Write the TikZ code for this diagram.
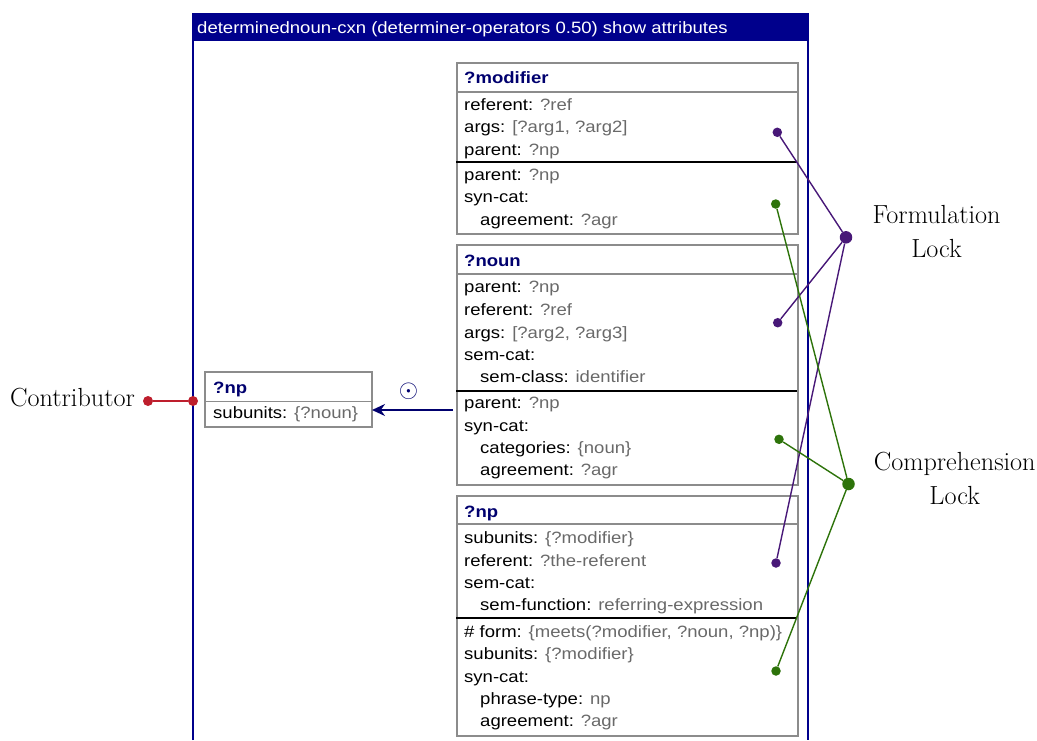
\documentclass[tikz,border=0pt]{standalone}
\usepackage{fontspec}
\setsansfont{Liberation Sans}[FakeStretch=1.13]
\usetikzlibrary{arrows.meta}

\definecolor{hdrnavy}{RGB}{0,0,140}
\definecolor{titlenavy}{RGB}{0,0,110}
\definecolor{boxgray}{RGB}{140,140,140}
\definecolor{valgray}{RGB}{105,105,105}
\definecolor{formpurple}{RGB}{72,24,120}
\definecolor{compgreen}{RGB}{45,115,10}
\definecolor{contrred}{RGB}{190,30,45}

\newcommand{\attrval}[1]{\textcolor{valgray}{#1}}

\begin{document}
\begin{tikzpicture}[x=1pt,y=-1pt,>={Stealth[length=13pt,width=12pt]},
    box/.style={draw=boxgray,line width=1.8pt,anchor=north west,inner sep=0pt},
    titlerule/.style={draw=boxgray,line width=1.2pt},
    seprule/.style={draw=black,line width=1.8pt},
    attr/.style={anchor=base west,inner sep=0pt,font=\sffamily\fontsize{16.4}{19}\selectfont},
    title/.style={attr,font=\sffamily\bfseries\fontsize{16.4}{19}\selectfont,text=titlenavy},
    hdr/.style={attr,text=white},
    lbl/.style={anchor=base,inner sep=0pt,font=\fontsize{26.2}{30}\selectfont},
    pdot/.style={circle,fill=formpurple,inner sep=0pt,minimum size=9.5pt},
    gdot/.style={circle,fill=compgreen,inner sep=0pt,minimum size=9.5pt},
    rdot/.style={circle,fill=contrred,inner sep=0pt,minimum size=10pt},
    hub/.style={minimum size=12.5pt},
    lockline/.style={line width=1.4pt}]

    \useasboundingbox (0,0) rectangle (1037,740);

    % construction frame
    \fill[hdrnavy] (193,14) rectangle (808,41);
    \draw[hdrnavy,line width=2.4pt] (193,740) -- (193,14) -- (808,14) -- (808,740);
    \node[hdr] (cxn) at (197,33.5) {determinednoun-cxn (determiner-operators 0.50) show attributes};

    % ?modifier unit
    \node[box,minimum width=341pt,minimum height=171pt] (modbox) at (456,62) {};
    \draw[titlerule] (456,92) -- (797,92);
    \draw[seprule] (456,162) -- (797,162);
    \node[title] (modt) at (464,83.5) {?modifier};
    \node[attr] (mod1) at (464,110) {referent: \attrval{?ref}};
    \node[attr] (mod2) at (464,132.5) {args: \attrval{[?arg1, ?arg2]}};
    \node[attr] (mod3) at (464,155) {parent: \attrval{?np}};
    \node[attr] (mod4) at (464,180) {parent: \attrval{?np}};
    \node[attr] (mod5) at (464,202.5) {syn-cat:};
    \node[attr] (mod6) at (480,225) {agreement: \attrval{?agr}};

    % ?noun unit
    \node[box,minimum width=341pt,minimum height=240pt] (nounbox) at (456,244) {};
    \draw[titlerule] (456,274) -- (797,274);
    \draw[seprule] (456,391) -- (797,391);
    \node[title] (nount) at (464,266) {?noun};
    \node[attr] (noun1) at (464,292.5) {parent: \attrval{?np}};
    \node[attr] (noun2) at (464,315) {referent: \attrval{?ref}};
    \node[attr] (noun3) at (464,338) {args: \attrval{[?arg2, ?arg3]}};
    \node[attr] (noun4) at (464,360.5) {sem-cat:};
    \node[attr] (noun5) at (480,382) {sem-class: \attrval{identifier}};
    \node[attr] (noun6) at (464,408.5) {parent: \attrval{?np}};
    \node[attr] (noun7) at (464,431) {syn-cat:};
    \node[attr] (noun8) at (480,453.5) {categories: \attrval{\{noun\}}};
    \node[attr] (noun9) at (480,475.5) {agreement: \attrval{?agr}};

    % ?np unit
    \node[box,minimum width=341pt,minimum height=240pt] (npbox) at (456,495) {};
    \draw[titlerule] (456,524) -- (797,524);
    \draw[seprule] (456,618) -- (797,618);
    \node[title] (npt) at (464,517.5) {?np};
    \node[attr] (np1) at (464,543.5) {subunits: \attrval{\{?modifier\}}};
    \node[attr] (np2) at (464,566) {referent: \attrval{?the-referent}};
    \node[attr] (np3) at (464,588.5) {sem-cat:};
    \node[attr] (np4) at (480,610.5) {sem-function: \attrval{referring-expression}};
    \node[attr] (np5) at (464,637) {\# form: \attrval{\{meets(?modifier, ?noun, ?np)\}}};
    \node[attr] (np6) at (464,659.5) {subunits: \attrval{\{?modifier\}}};
    \node[attr] (np7) at (464,682) {syn-cat:};
    \node[attr] (np8) at (480,704) {phrase-type: \attrval{np}};
    \node[attr] (np9) at (480,726) {agreement: \attrval{?agr}};

    % contributing ?np
    \node[box,minimum width=167pt,minimum height=55pt] (contbox) at (204,371) {};
    \draw[titlerule] (204,401.5) -- (371,401.5);
    \node[title] (contt) at (213,393.3) {?np};
    \node[attr] (cont1) at (213,418.3) {subunits: \attrval{\{?noun\}}};

    \coordinate (arrstart) at (453,410);
    \coordinate (arrend) at (372,410);
    \draw[->,titlenavy,line width=2pt] (arrstart) -- (arrend);
    \node[text=titlenavy,inner sep=0pt,font=\fontsize{23}{26}\selectfont] (odot) at (408.5,391.5) {$\odot$};

    % contributor
    \node[lbl] (contr) at (72.5,406.7) {Contributor};
    \node[rdot] (cdot) at (148,401) {};
    \node[rdot] (fdot) at (193,401) {};
    \draw[contrred,lockline] (cdot) -- (fdot);

    % formulation lock
    \node[lbl] (flab) at (936.6,223.3) {Formulation};
    \node[lbl] (flab2) at (936.6,257.3) {Lock};
    \node[pdot,hub] (flock) at (846,237.3) {};
    \node[pdot] (p1) at (777.3,132.3) {};
    \node[pdot] (p2) at (777.7,322.7) {};
    \node[pdot] (p3) at (776,563) {};
    \draw[formpurple,lockline] (p1) -- (flock);
    \draw[formpurple,lockline] (p2) -- (flock);
    \draw[formpurple,lockline] (p3) -- (flock);

    % comprehension lock
    \node[lbl] (clab) at (954.7,470.7) {Comprehension};
    \node[lbl] (clab2) at (954.7,504.3) {Lock};
    \node[gdot,hub] (clock) at (848.5,484) {};
    \node[gdot] (g1) at (775.7,204) {};
    \node[gdot] (g2) at (779,439.3) {};
    \node[gdot] (g3) at (776,671) {};
    \draw[compgreen,lockline] (g1) -- (clock);
    \draw[compgreen,lockline] (g2) -- (clock);
    \draw[compgreen,lockline] (g3) -- (clock);

\end{tikzpicture}
\end{document}
